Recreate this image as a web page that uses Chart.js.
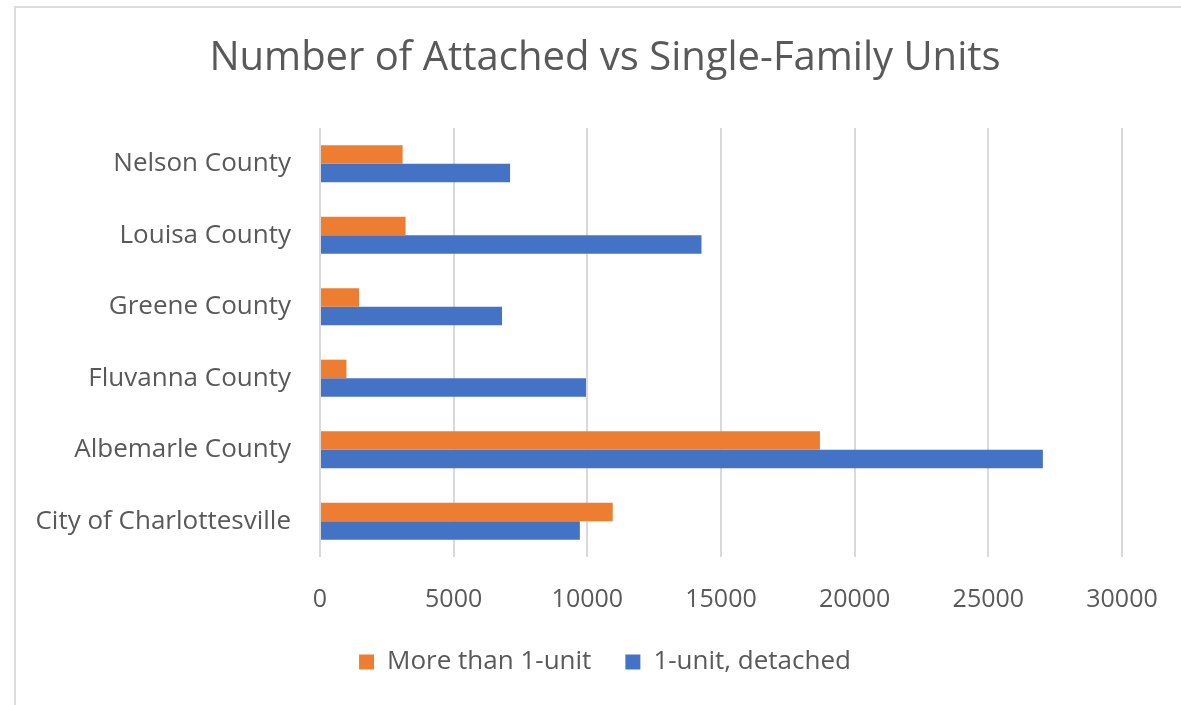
<!DOCTYPE html>
<html>
<head>
<meta charset="utf-8">
<script src="https://cdn.jsdelivr.net/npm/chart.js@4/dist/chart.umd.min.js"></script>
<style>
  html, body { margin: 0; padding: 0; background: #fff; overflow: hidden; }
  .frame {
    position: absolute; left: 14px; top: 6px;
    width: 1300px; height: 800px;
    border: 2px solid #dcdcdc;
  }
  #myChart { position: absolute; left: 0; top: 0; }
</style>
</head>
<body>
<div class="frame"></div>
<canvas id="myChart" width="1181" height="705"></canvas>
<script>
// counties, top to bottom as shown
const counties = [
  'Nelson County',
  'Louisa County',
  'Greene County',
  'Fluvanna County',
  'Albemarle County',
  'City of Charlottesville'
];
const moreThanOne = [3090, 3200, 1460, 990, 18700, 10950];
const detached = [7110, 14270, 6810, 9950, 27040, 9720];
const xTicks = [0, 5000, 10000, 15000, 20000, 25000, 30000];

const gray = '#595959';
const font = 'Open Sans';

new Chart(document.getElementById('myChart').getContext('2d'), {
  type: 'bar',
  data: {
    labels: counties,
    datasets: [
      {
        label: 'More than 1-unit',
        data: moreThanOne,
        backgroundColor: '#ED7D31',
        borderWidth: 0
      },
      {
        label: '1-unit, detached',
        data: detached,
        backgroundColor: '#4472C4',
        borderWidth: 0
      }
    ]
  },
  options: {
    indexAxis: 'y',
    responsive: false,
    animation: false,
    barPercentage: 1,
    categoryPercentage: 0.52,
    layout: { padding: { left: 29, right: 0, top: 0, bottom: 20 } },
    plugins: {
      title: {
        display: true,
        text: 'Number of Attached vs Single-Family Units',
        color: gray,
        font: { family: font, size: 40, weight: 'normal' },
        padding: { top: 35, bottom: 45 }
      },
      legend: {
        position: 'bottom',
        labels: {
          color: gray,
          font: { family: font, size: 26 },
          boxWidth: 15,
          boxHeight: 15,
          padding: 34
        }
      },
      tooltip: { enabled: false }
    },
    scales: {
      x: {
        min: 0,
        max: 30000,
        afterBuildTicks: (scale) => {
          scale.ticks = xTicks.map(v => ({ value: v }));
        },
        afterFit: (scale) => {
          scale.height = 58;
          scale.paddingRight = 59; // room on the right like the original
        },
        grid: { color: '#d9d9d9', lineWidth: 2, drawTicks: false },
        border: { display: false },
        ticks: {
          color: gray,
          font: { family: font, size: 25 },
          padding: 28,
          callback: (v) => String(v)
        }
      },
      y: {
        afterFit: (scale) => { scale.width = 291; },
        grid: { display: false, drawTicks: false },
        border: { display: false },
        ticks: {
          color: gray,
          font: { family: font, size: 26 },
          padding: 29
        }
      }
    }
  }
});
</script>
</body>
</html>
